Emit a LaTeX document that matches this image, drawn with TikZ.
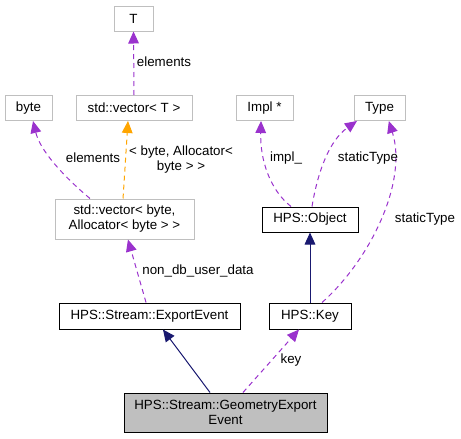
\documentclass[tikz,border=0pt]{standalone}
\usepackage{fontspec}
\setmainfont{Liberation Sans}
\usetikzlibrary{arrows.meta}
\definecolor{extgray}{HTML}{BFBFBF}
\definecolor{dep}{HTML}{9A32CD}
\definecolor{tmpl}{HTML}{FFA500}
\definecolor{inh}{HTML}{191970}
\tikzset{
  box/.style={draw=black, line width=0.75pt, inner sep=0pt, align=center, font=\fontsize{10}{11.25}\selectfont},
  extbox/.style={box, draw=extgray},
  curbox/.style={box, fill=extgray},
  lbl/.style={inner sep=0pt, align=center, font=\fontsize{10}{11.25}\selectfont},
  tip/.style={-{Triangle[length=9pt,width=8pt]}},
  usedep/.style={tip, draw=dep, line width=0.75pt, dash pattern=on 3.75pt off 3pt},
  tmpldep/.style={tip, draw=tmpl, line width=0.75pt, dash pattern=on 3.75pt off 3pt},
  inhdep/.style={tip, draw=inh, line width=0.75pt},
}
\begin{document}
\begin{tikzpicture}[x=0.75pt, y=-0.75pt]
\useasboundingbox (0,0) rectangle (461,439);
% nodes
\node[extbox, minimum width=29.25pt, minimum height=18.75pt] (T) at (133.5,18.5) {T};
\node[extbox, minimum width=87pt, minimum height=18.75pt] (vecT) at (134,108) {std::vector< T >};
\node[extbox, minimum width=35.25pt, minimum height=18.75pt] (byte) at (28.5,108) {byte};
\node[extbox, minimum width=42.75pt, minimum height=18.75pt] (impl) at (264.5,108) {Impl *};
\node[extbox, minimum width=38.25pt, minimum height=18.75pt] (type) at (379.5,108) {Type};
\node[box, minimum width=72pt, minimum height=18.75pt] (obj) at (310,219.5) {HPS::Object};
\node[extbox, minimum width=104.25pt, minimum height=30pt] (vecbyte) at (124.5,219) {std::vector< byte,\\Allocator< byte > >};
\node[box, minimum width=135.75pt, minimum height=19.5pt] (exp) at (149.5,316) {HPS::Stream::ExportEvent};
\node[box, minimum width=61.5pt, minimum height=19.5pt] (key) at (310,316) {HPS::Key};
\node[curbox, minimum width=152.25pt, minimum height=29.25pt] (geo) at (225.5,412.5) {HPS::Stream::GeometryExport\\Event};
% edges
\draw[usedep] (vecT.north) -- (T.south);
\draw[usedep] ([xshift=-25.9pt]vecbyte.north) .. controls (62,175) and (40,150) .. ([xshift=3.4pt]byte.south);
\draw[tmpldep] ([xshift=-1.1pt]vecbyte.north) -- ([xshift=-4.5pt]vecT.south);
\draw[usedep] ([xshift=-2.6pt]exp.north) -- ([xshift=2.6pt]vecbyte.south);
\draw[inhdep] ([xshift=-11.6pt]geo.north) -- ([xshift=10.1pt]exp.south);
\draw[usedep] ([xshift=13.1pt]geo.north) -- ([xshift=-8.25pt]key.south);
\draw[inhdep] (key.north) -- (obj.south);
\draw[usedep] ([xshift=9pt]key.north) .. controls (370,260) and (408,182) .. ([xshift=7pt]type.south);
\draw[usedep] ([xshift=-14.25pt]obj.north) .. controls (270,190) and (260,160) .. ([xshift=-2.6pt]impl.south);
\draw[usedep] ([xshift=1.5pt]obj.north) .. controls (318,170) and (330,140) .. ([xshift=-16.9pt]type.south);
% labels
\node[lbl] (l1) at (164,62) {elements};
\node[lbl] (l2) at (93,158) {elements};
\node[lbl] (l3) at (181,160) {< byte, Allocator<\\byte > >};
\node[lbl] (l4) at (286,158) {impl\_};
\node[lbl] (l5) at (368,158) {staticType};
\node[lbl] (l6) at (425,219) {staticType};
\node[lbl] (l7) at (198,271) {non\_db\_user\_data};
\node[lbl] (l8) at (291,360) {key};
\end{tikzpicture}
\end{document}
